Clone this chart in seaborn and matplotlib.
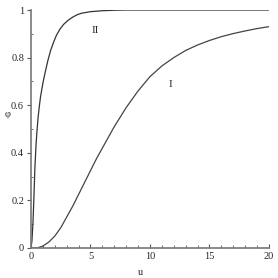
import numpy as np
import pandas as pd
import matplotlib
matplotlib.use('Agg')
import matplotlib.pyplot as plt
import seaborn as sns
from matplotlib.ticker import MultipleLocator

# curve I (slow, s-shaped)
u_1 = [0, 0.5, 1.0, 1.5, 2.0, 2.5, 3.0, 3.5, 4.0, 4.5, 5.0, 5.5, 6.0, 6.5, 7.0,
       7.5, 8.0, 8.5, 9.0, 9.5, 10.0, 11.0, 12.0, 13.0, 14.0, 15.0, 16.0, 17.0,
       18.0, 19.0, 20.0]
phi_1 = [0, 0.0, 0.008, 0.025, 0.05, 0.085, 0.13, 0.175, 0.225, 0.275, 0.325,
         0.375, 0.42, 0.465, 0.51, 0.55, 0.59, 0.625, 0.66, 0.69, 0.72, 0.765,
         0.80, 0.83, 0.853, 0.872, 0.888, 0.901, 0.912, 0.922, 0.93]

# curve II (fast)
u_2 = [0, 0.08, 0.17, 0.25, 0.33, 0.42, 0.5, 0.6, 0.7, 0.8, 0.92, 1.05, 1.2,
       1.43, 1.65, 1.9, 2.15, 2.44, 2.75, 3.1, 3.5, 3.87, 4.3, 5.0, 6.0, 7.0,
       8.0, 10.0, 15.0, 20.0]
phi_2 = [0, 0.03, 0.11, 0.22, 0.34, 0.43, 0.49, 0.55, 0.595, 0.635, 0.67, 0.705,
         0.74, 0.79, 0.83, 0.865, 0.895, 0.92, 0.94, 0.956, 0.97, 0.98, 0.987,
         0.993, 0.997, 0.999, 1.0, 1.0, 1.0, 1.0]

sns.set_style('ticks')
plt.rcParams['font.family'] = ['Liberation Serif', 'DejaVu Serif']

fig = plt.figure(figsize=(2.78, 2.78), dpi=100)
ax = fig.add_axes([0.1115, 0.108, 0.856, 0.856])

df1 = pd.DataFrame({'u': u_1, 'phi': phi_1})
df2 = pd.DataFrame({'u': u_2, 'phi': phi_2})
sns.lineplot(data=df1, x='u', y='phi', ax=ax, color='#444444', linewidth=0.9)
sns.lineplot(data=df2, x='u', y='phi', ax=ax, color='#333333', linewidth=0.9)

ax.set_xlim(0, 20)
ax.set_ylim(0, 1)
ax.set_xticks([0, 5, 10, 15, 20])
ax.set_xticklabels(['0', '5', '10', '15', '20'])
ax.xaxis.set_minor_locator(MultipleLocator(1))
ax.set_yticks([0, 0.2, 0.4, 0.6, 0.8, 1.0])
ax.set_yticklabels(['0', '0.2', '0.4', '0.6', '0.8', '1'])
ax.yaxis.set_minor_locator(MultipleLocator(0.1))

sns.despine(ax=ax)
for s in ['left', 'bottom']:
    ax.spines[s].set_color('#777777')
    ax.spines[s].set_linewidth(1.2)

ax.tick_params(axis='x', which='major', direction='in', length=3, width=0.8,
               color='#555555', labelsize=7.5, pad=3)
ax.tick_params(axis='x', which='minor', direction='in', length=2, width=0.6, color='#555555')
ax.tick_params(axis='y', which='major', direction='out', length=3, width=0.8,
               color='#555555', labelsize=7.5, pad=2)
ax.tick_params(axis='y', which='minor', direction='in', length=1.5, width=0.6, color='#555555')

ax.set_xlabel('u', fontsize=7.5)
ax.xaxis.set_label_coords(0.46, -0.085)
ax.set_ylabel('φ', fontsize=7.5, rotation=0)
ax.yaxis.set_label_coords(-0.1, 0.54)

ax.text(5.4, 0.915, 'II', fontsize=8, ha='center', va='center')
ax.text(11.7, 0.687, 'I', fontsize=8, ha='center', va='center')

fig.savefig('out.png', dpi=100)
